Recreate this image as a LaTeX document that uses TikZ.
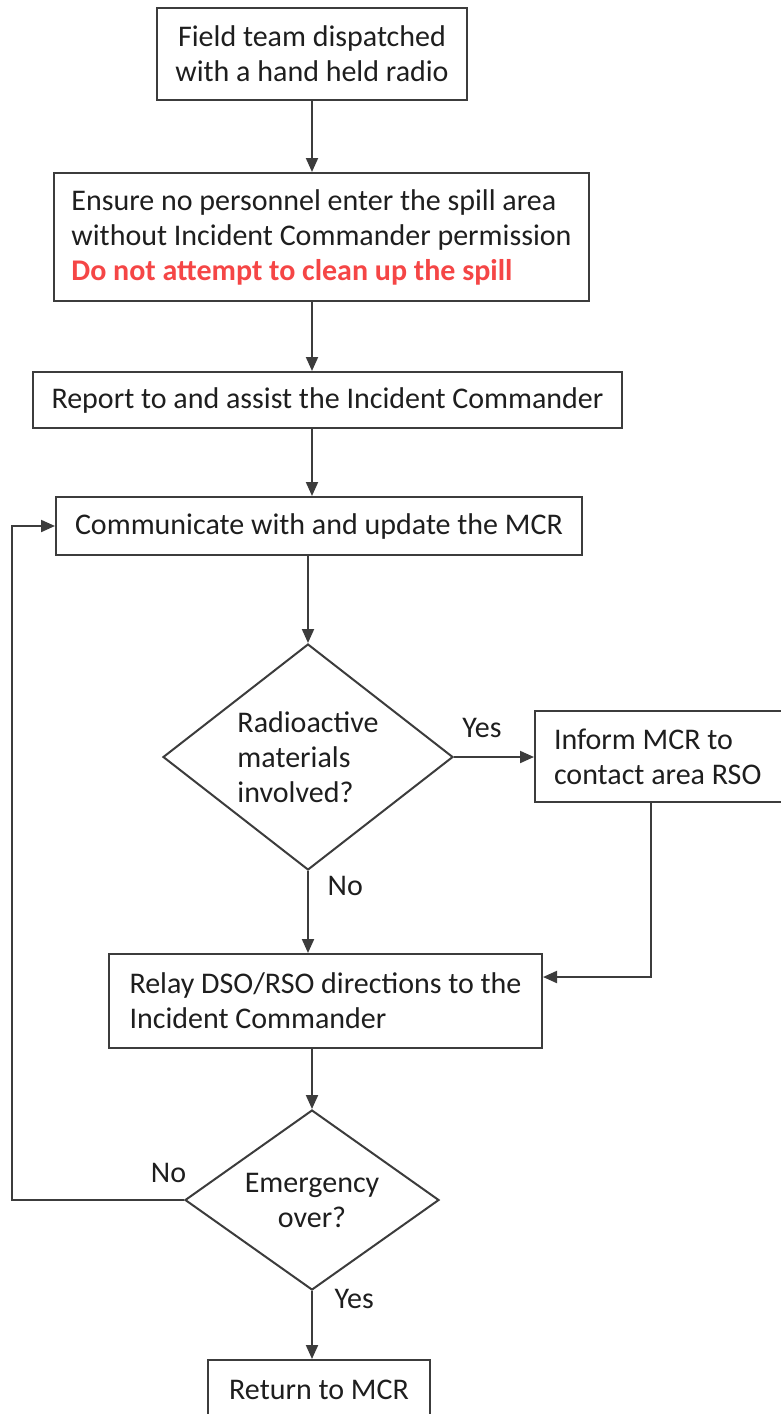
\documentclass[tikz,border=0pt]{standalone}
\usepackage{fontspec}
\setmainfont{Carlito}
\usepackage{xcolor}
\usetikzlibrary{arrows.meta,shapes.geometric}
\definecolor{linegray}{RGB}{60,60,60}
\definecolor{textgray}{RGB}{30,30,30}
\definecolor{spillred}{RGB}{245,70,70}

\begin{document}
\begin{tikzpicture}[x=0.5pt,y=-0.5pt,
	every node/.style={text=textgray, font=\fontsize{15}{17.5}\selectfont},
	box/.style={draw=linegray, line width=1pt, rectangle, inner sep=0pt, align=center},
	dec/.style={draw=linegray, line width=1pt, diamond, inner sep=0pt, align=center},
	arr/.style={draw=linegray, line width=1pt, -{Triangle[length=7pt,width=6pt]}}]
		\useasboundingbox (0,0) rectangle (781,1414);
		% Boxes down the middle
		\node[box, minimum width=155pt, minimum height=46pt] (b1) at (312,54) {Field team dispatched\\with a hand held radio};
		\node[box, align=left, minimum width=267.5pt, minimum height=64pt] (b2) at (321.5,237) {Ensure no personnel enter the spill area\\without Incident Commander permission\\{\bfseries\color{spillred}Do not attempt to clean up the spill}};
		\node[box, minimum width=294.5pt, minimum height=28pt] (b3) at (327.5,400) {Report to and assist the Incident Commander};
		\node[box, minimum width=263pt, minimum height=29pt] (b4) at (319,526) {Communicate with and update the MCR};
		% First decision
		\node[dec, align=left, aspect=1.28, minimum width=145pt, minimum height=113pt] (d1) at (308,757) {Radioactive\\materials\\involved?};
		\node[box, align=flush left, text width=118.5pt, inner xsep=9.5pt, minimum height=45.5pt] (b5) at (672.5,756.5) {Inform MCR to\\contact area RSO};
		\node[box, align=left, minimum width=216.5pt, minimum height=47pt] (b6) at (325.5,1001) {Relay DSO/RSO directions to the\\Incident Commander};
		% Second decision
		\node[dec, aspect=1.41, minimum width=127pt, minimum height=90pt] (d2) at (312,1200) {Emergency\\over?};
		\node[box, minimum width=111pt, minimum height=30pt] (b7) at (319,1390) {Return to MCR};
		% Arrows
		\draw[arr] (b1.south) -- (b1.south |- b2.north);
		\draw[arr] (b2.south -| b1) -- (b3.north -| b1);
		\draw[arr] (b3.south -| b1) -- (b4.north -| b1);
		\draw[arr] (b4.south -| d1) -- (d1.north);
		\draw[arr] (d1.east) -- (d1.east -| b5.west) node[pos=0.35, above=6pt] {Yes};
		\draw[arr] (d1.south) -- (d1.south |- b6.north) node[pos=0.18, right=6pt] {No};
		\coordinate (c1) at (651,977);
		\draw[arr] (b5.south -| c1) -- (c1) -- (c1 -| b6.east);
		\draw[arr] (b6.south -| d2) -- (d2.north);
		\draw[arr] (d2.south) -- (d2.south |- b7.north) node[pos=0.11, right=7.5pt] {Yes};
		% Loop back to the MCR box
		\coordinate (c2) at (12,1200);
		\draw[arr] (d2.west) -- node[pos=0.09, above=5pt] {No} (c2) |- (b4.west);
\end{tikzpicture}
\end{document}
